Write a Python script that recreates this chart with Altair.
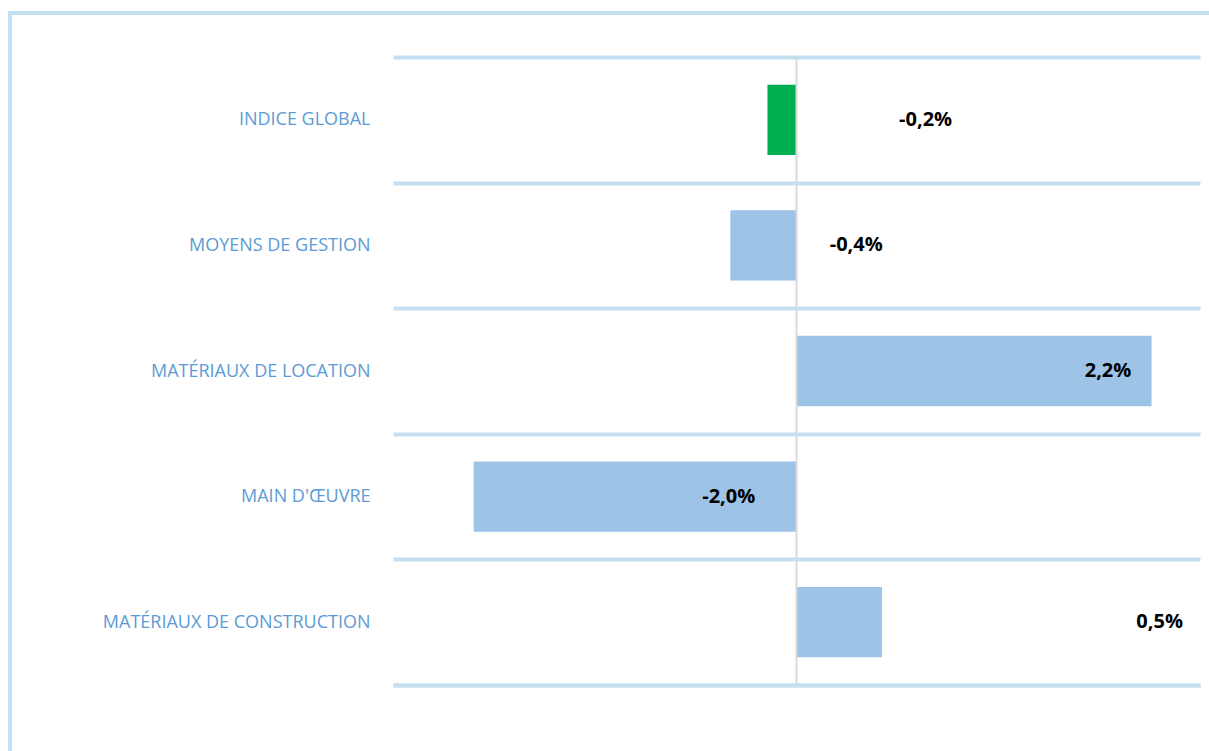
import altair as alt
import pandas as pd

categories = ["INDICE GLOBAL", "MOYENS DE GESTION", "MATÉRIAUX DE LOCATION", "MAIN D'ŒUVRE", "MATÉRIAUX DE CONSTRUCTION"]
values = [-0.18, -0.41, 2.20, -2.00, 0.53]
labels = ["-0,2%", "-0,4%", "2,2%", "-2,0%", "0,5%"]
label_at = [0.80, 0.37, 1.93, -0.42, 2.25]

df = pd.DataFrame({"cat": categories, "val": values, "lab": labels, "lab_x": label_at})

GRID = "#C5DFF2"
BLUE = "#9DC3E6"
GREEN = "#00B050"
LABEL = "#5B9BD5"

xscale = alt.Scale(domain=[-2.5, 2.5], nice=False, zero=False)
yenc = alt.Y(
    "cat:N",
    sort=categories,
    scale=alt.Scale(paddingInner=0, paddingOuter=0),
    axis=alt.Axis(
        title=None, domain=False, ticks=False, grid=True, tickBand="extent",
        gridColor=GRID, gridWidth=4, gridOpacity=1,
        labelColor=LABEL, labelFont="Open Sans", labelFontSize=18,
        labelPadding=23, labelLimit=400,
    ),
)

bars = alt.Chart(df).mark_bar(height={"band": 0.56}).encode(
    x=alt.X("val:Q", scale=xscale, axis=alt.Axis(
        title=None, labels=False, ticks=False, grid=False,
        domain=True, domainColor=GRID, domainWidth=4)),
    y=yenc,
    color=alt.condition(alt.datum.cat == "INDICE GLOBAL", alt.value(GREEN), alt.value(BLUE)),
)

zero = alt.Chart(pd.DataFrame({"z": [0]})).mark_rule(color="#D9D9D9", strokeWidth=2).encode(
    x=alt.X("z:Q", scale=xscale)
)

texts = alt.Chart(df).mark_text(
    font="Open Sans", fontWeight="bold", fontSize=20, color="#000000", align="center", baseline="middle"
).encode(
    x=alt.X("lab_x:Q", scale=xscale),
    y=alt.Y("cat:N", sort=categories),
    text="lab:N",
)

one = pd.DataFrame({"a": [0]})
left_border = alt.Chart(one).mark_rule(color=GRID, strokeWidth=4).encode(
    x=alt.value(-383), y=alt.value(-44), y2=alt.value(700)
)
top_border = alt.Chart(one).mark_rule(color=GRID, strokeWidth=4).encode(
    x=alt.value(-385), x2=alt.value(820), y=alt.value(-44)
)

chart = alt.layer(bars, zero, texts, left_border, top_border).properties(
    width=807, height=628,
    background="white",
    autosize=alt.AutoSizeParams(type="none"),
    padding={"left": 393, "top": 57, "right": 9, "bottom": 66},
).configure_view(strokeWidth=0, stroke="transparent")

chart.save("out.html", embed_options={"renderer": "svg", "actions": False})
